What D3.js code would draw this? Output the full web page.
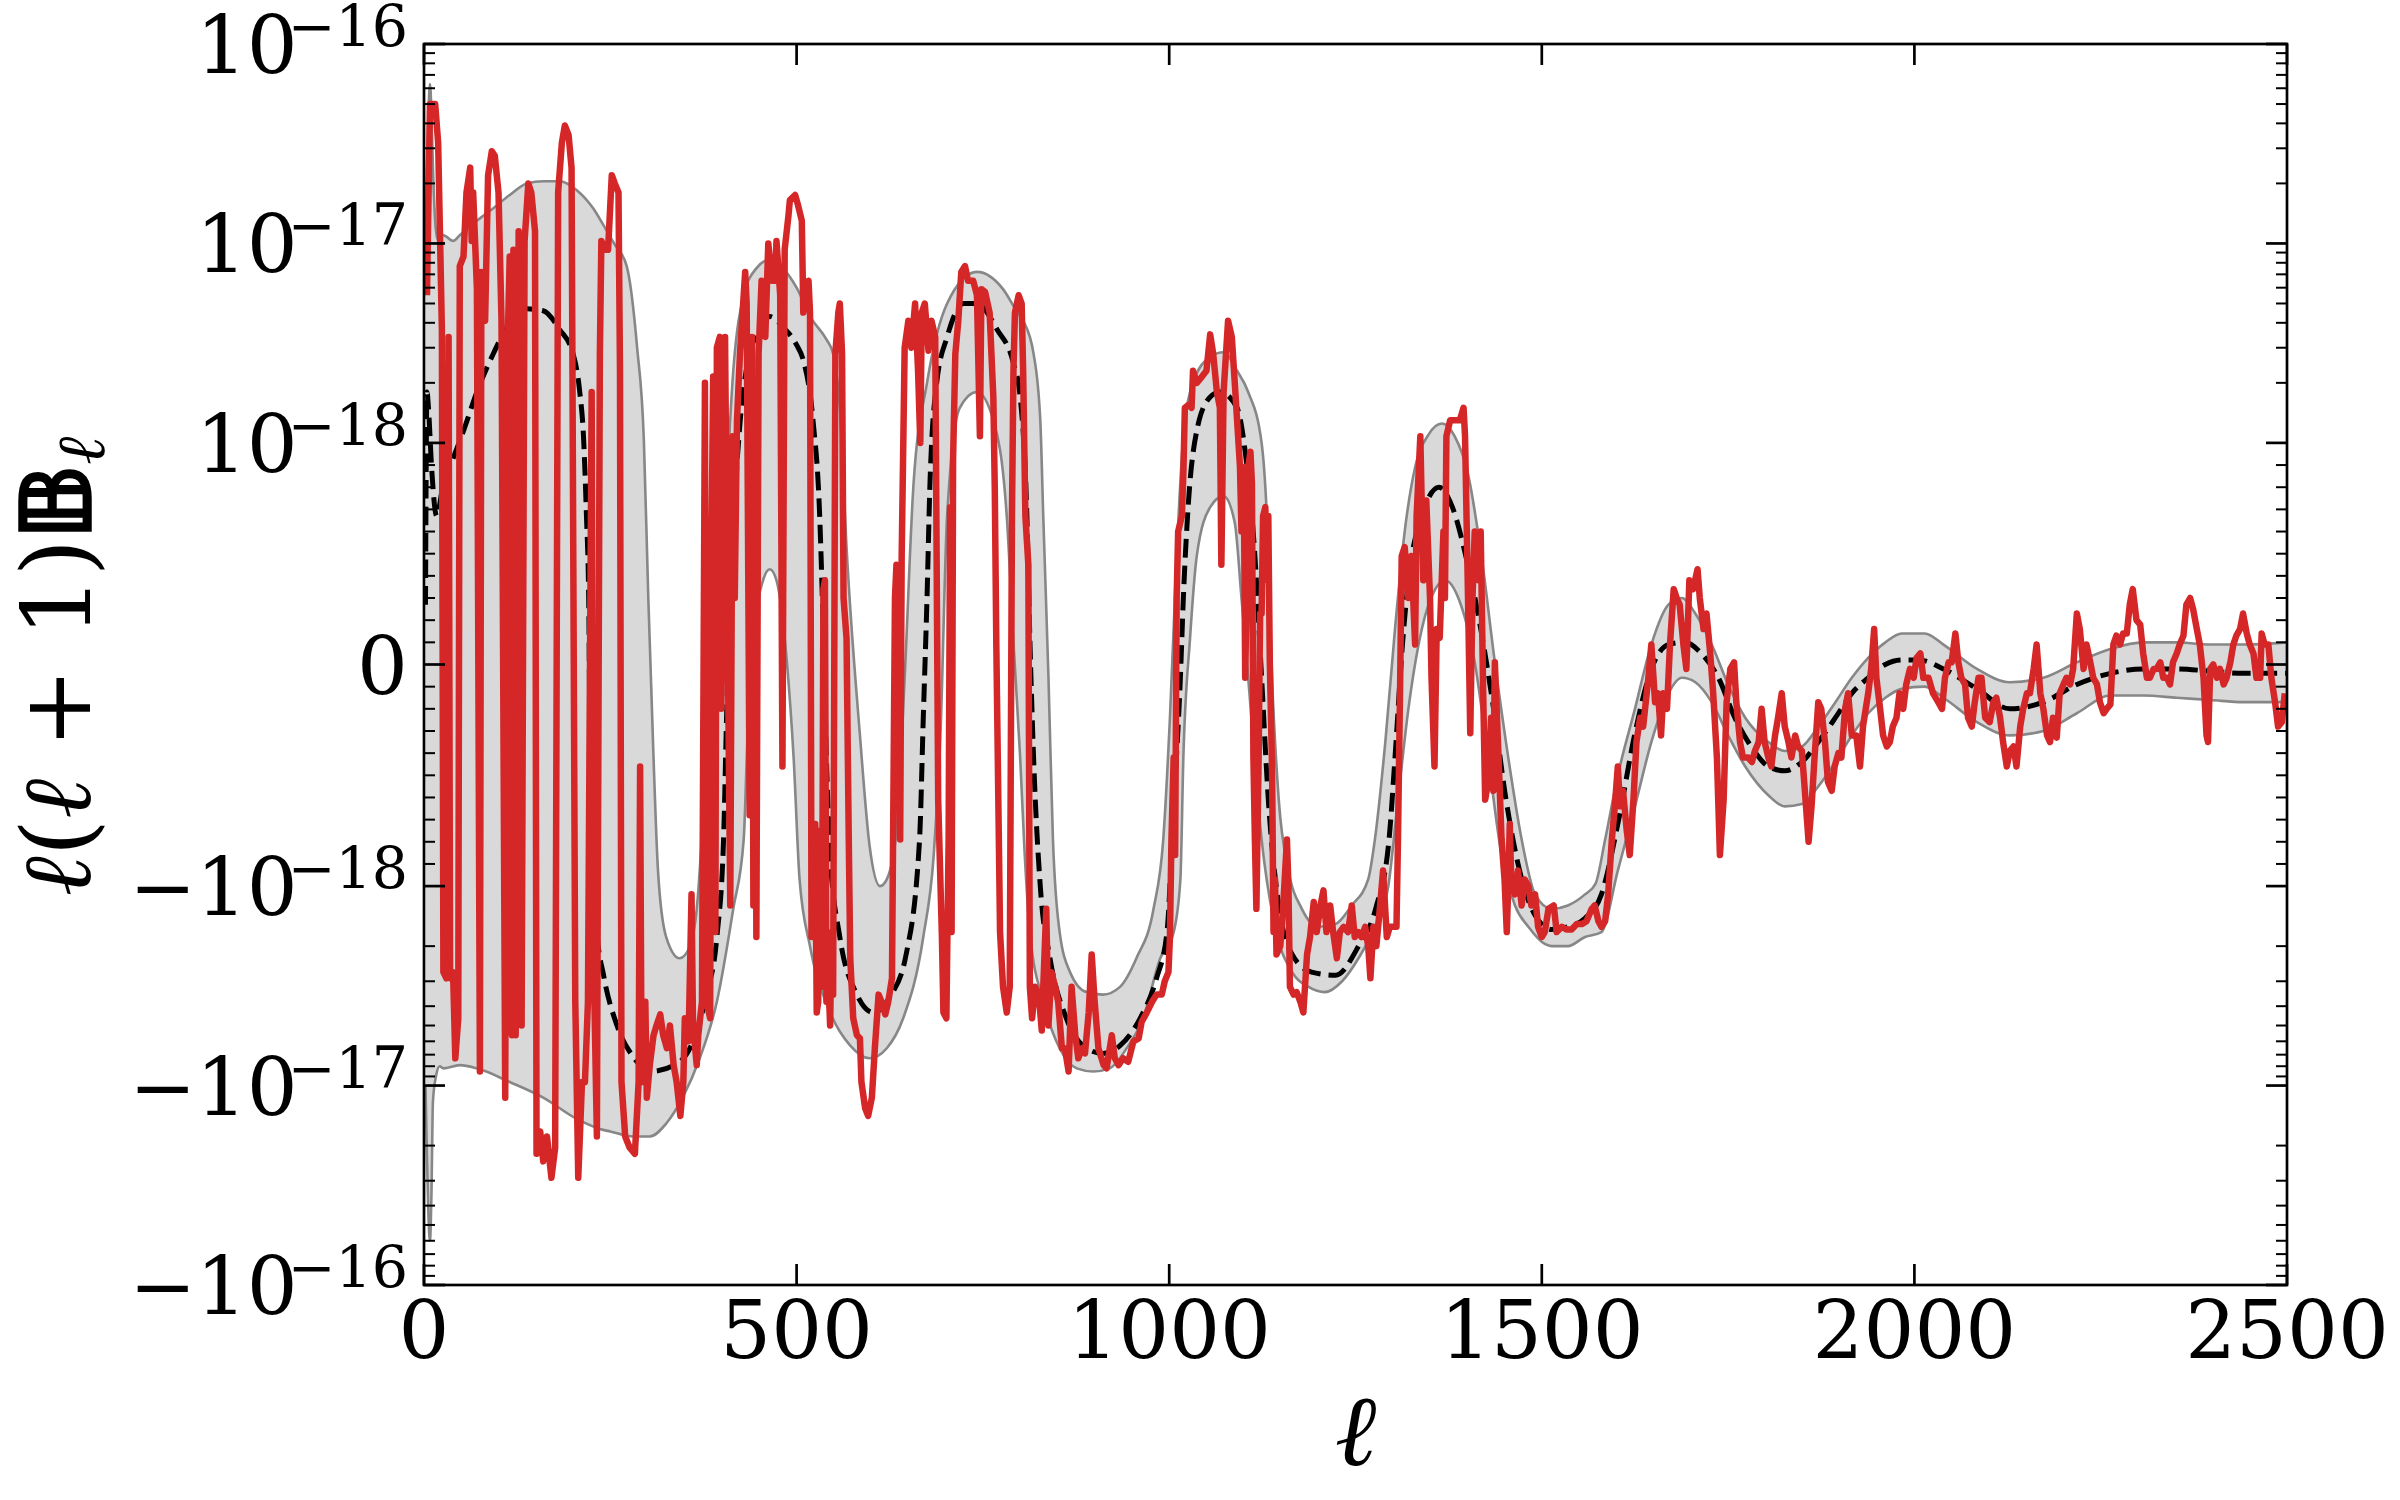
<!DOCTYPE html>
<html>
<head>
<meta charset="utf-8">
<script src="https://cdnjs.cloudflare.com/ajax/libs/d3/7.8.5/d3.min.js"></script>
<style>
  body { margin: 0; background: #fff; }
  svg { display: block; }
  text { font-family: "DejaVu Serif", serif; fill: #000; }
</style>
</head>
<body>
<svg id="chart" width="2400" height="1500"></svg>
<script>
// --- Data (all y values are in units of 1e-18) ---

// theory curve (black dashed)
const theoryEll = [2, 4, 6, 10, 17, 26, 39, 53, 71, 93, 115, 138, 160, 182, 200, 209, 214, 218, 221, 223, 232, 241, 259, 281, 303, 339, 361, 379, 393, 402, 406, 411, 424, 437, 451, 464, 482, 500, 509, 522, 531, 536, 540, 545, 558, 581, 603, 625, 647, 665, 670, 675, 679, 688, 702, 724, 742, 769, 791, 800, 809, 813, 818, 827, 840, 862, 889, 911, 934, 961, 983, 997, 1006, 1015, 1019, 1026, 1037, 1055, 1068, 1091, 1102, 1115, 1124, 1133, 1147, 1165, 1191, 1223, 1254, 1277, 1295, 1303, 1313, 1321, 1339, 1362, 1380, 1398, 1416, 1434, 1452, 1474, 1491, 1513, 1535, 1558, 1580, 1602, 1625, 1647, 1670, 1692, 1714, 1737, 1759, 1781, 1804, 1826, 1849, 1871, 1894, 1916, 1938, 1961, 1983, 2006, 2039, 2084, 2128, 2173, 2218, 2263, 2307, 2352, 2397, 2442, 2500];
const theoryVal = [0.27, 1.8, 1.5, 0.9, 0.67, 0.82, 0.93, 1.15, 1.8, 2.8, 4.0, 4.7, 4.6, 3.7, 2.8, 1.8, 1.08, 0.67, 0.3, -0.42, -1.7, -2.8, -5, -7.2, -8.5, -7.8, -6, -3.5, -1.8, -0.79, -0.24, 0.3, 1.25, 2.8, 3.7, 4.3, 3.8, 3.1, 2.6, 1.3, 0.67, 0.12, -0.42, -0.86, -1.8, -3.5, -4.3, -3.6, -2.2, -0.79, -0.24, 0.3, 0.82, 2.0, 3.4, 5.0, 5.0, 3.7, 2.5, 1.7, 0.67, 0.12, -0.42, -1.0, -2.3, -4.6, -6.5, -6.9, -6.3, -4.6, -2.9, -1.7, -0.64, -0.06, 0.3, 0.74, 1.15, 1.7, 1.8, 1.5, 0.96, 0.49, -0.06, -0.61, -1.25, -2.2, -2.7, -2.8, -2.0, -1.3, -0.79, -0.42, 0.09, 0.38, 0.67, 0.8, 0.71, 0.49, 0.2, -0.17, -0.61, -0.98, -1.4, -1.65, -1.6, -1.45, -1.1, -0.72, -0.31, -0.02, 0.09, 0.1, 0.05, -0.06, -0.24, -0.37, -0.46, -0.48, -0.44, -0.35, -0.24, -0.13, -0.06, 0, 0.02, 0.02, -0.02, -0.11, -0.2, -0.17, -0.09, -0.04, -0.02, -0.02, -0.03, -0.04, -0.04];

// upper edge of the grey band
const bandHiEll = [2, 4, 6, 8, 10, 12, 15, 18, 26, 39, 48, 71, 93, 115, 138, 160, 182, 205, 227, 240, 255, 272, 286, 295, 301, 308, 314, 325, 343, 357, 366, 378, 393, 406, 415, 429, 446, 464, 482, 500, 520, 540, 549, 558, 567, 585, 598, 612, 621, 634, 645, 657, 675, 702, 742, 777, 795, 804, 818, 827, 831, 838, 844, 853, 867, 889, 911, 934, 956, 979, 992, 1001, 1010, 1019, 1032, 1055, 1073, 1091, 1106, 1124, 1131, 1138, 1147, 1160, 1178, 1200, 1223, 1245, 1267, 1276, 1290, 1303, 1316, 1330, 1348, 1366, 1383, 1401, 1419, 1437, 1455, 1473, 1491, 1513, 1535, 1558, 1572, 1585, 1602, 1625, 1647, 1670, 1688, 1706, 1728, 1750, 1773, 1804, 1826, 1849, 1871, 1894, 1916, 1938, 1961, 1983, 2014, 2039, 2084, 2128, 2173, 2218, 2263, 2307, 2352, 2397, 2442, 2500];
const bandHiVal = [10, 24, 45, 63, 45, 24, 13, 10.5, 11, 10.3, 11, 13, 15, 17.5, 20, 20.5, 20.5, 18.5, 15, 12.5, 10, 7.7, 3, 1.04, 0.3, -0.42, -0.93, -1.8, -2.3, -2, -1.3, -0.5, 0.2, 0.82, 2.3, 5.5, 7.5, 8.3, 7.5, 6.0, 4.2, 3.3, 2.8, 1.5, 0.53, -0.32, -0.82, -1.0, -0.97, -0.75, -0.06, 0.82, 2.0, 5.0, 7.2, 5.9, 4.6, 4.1, 2.8, 1.3, 0.67, -0.06, -0.79, -1.7, -2.7, -3.4, -3.5, -3.2, -2.3, -1.3, -0.79, -0.24, 0.49, 1.08, 2.0, 2.7, 2.85, 2.3, 1.8, 1.0, 0.67, -0.06, -0.61, -0.93, -1.3, -1.6, -1.55, -1.25, -0.97, -0.79, -0.35, 0.16, 0.6, 0.89, 1.1, 1.25, 1.08, 0.86, 0.49, 0.01, -0.42, -0.79, -1.1, -1.3, -1.25, -1.1, -0.99, -0.79, -0.5, -0.2, 0.09, 0.27, 0.3, 0.23, 0.09, -0.09, -0.24, -0.35, -0.39, -0.37, -0.28, -0.17, -0.06, 0.03, 0.1, 0.14, 0.14, 0.09, -0.02, -0.08, -0.06, 0.01, 0.07, 0.1, 0.1, 0.09, 0.09, 0.1];

// lower edge of the grey band
const bandLoEll = [2, 4, 6, 8, 10, 12, 16, 21, 26, 48, 71, 115, 160, 205, 236, 250, 281, 303, 325, 347, 370, 393, 415, 429, 435, 442, 455, 464, 473, 487, 496, 504, 518, 545, 572, 598, 621, 643, 670, 684, 693, 702, 719, 742, 764, 782, 791, 800, 806, 813, 831, 853, 876, 898, 920, 943, 965, 988, 1006, 1015, 1019, 1028, 1037, 1055, 1073, 1088, 1097, 1106, 1124, 1142, 1165, 1187, 1209, 1232, 1254, 1276, 1294, 1307, 1321, 1339, 1357, 1370, 1388, 1410, 1428, 1446, 1464, 1482, 1504, 1513, 1535, 1558, 1580, 1602, 1625, 1647, 1670, 1688, 1706, 1728, 1750, 1773, 1804, 1826, 1849, 1871, 1894, 1916, 1938, 1961, 1983, 2014, 2039, 2084, 2128, 2173, 2218, 2263, 2307, 2352, 2397, 2442, 2500];
const bandLoVal = [-10, -23, -45, -60, -35, -12, -9, -8, -8.2, -7.9, -8.2, -9.6, -11.5, -14.7, -16.5, -17, -18, -18, -15.5, -11.5, -7.3, -3.8, -1.3, -0.79, -0.24, 0.12, 0.38, 0.43, 0.38, 0.01, -0.42, -0.97, -2.0, -4.3, -6.3, -7.3, -6.5, -4.6, -1.8, -0.86, -0.32, 0.67, 1.5, 1.8, 1.3, 0.67, 0.1, -0.42, -0.85, -1.7, -3.8, -6.5, -8.2, -8.5, -8.2, -6.5, -4.6, -2.3, -1.7, -0.97, -0.42, 0.12, 0.49, 0.71, 0.76, 0.64, 0.3, -0.06, -0.79, -1.6, -2.7, -3.2, -3.4, -3.0, -2.3, -1.6, -1.0, -0.61, -0.2, 0.16, 0.34, 0.38, 0.3, 0.01, -0.42, -0.86, -1.25, -1.6, -1.95, -2.0, -2.0, -1.8, -1.7, -0.93, -0.64, -0.35, -0.13, -0.06, -0.08, -0.17, -0.32, -0.46, -0.59, -0.64, -0.63, -0.55, -0.44, -0.32, -0.22, -0.15, -0.11, -0.1, -0.15, -0.26, -0.32, -0.3, -0.22, -0.14, -0.14, -0.15, -0.16, -0.17, -0.17];

// measured spectrum (red)
const dataEll = [
  4, 8, 15, 19, 24, 26, 30, 33, 35, 39, 42, 46, 48, 53, 57, 62, 64, 66, 71, 75, 77, 82, 86, 91, 95, 100, 104, 109, 112, 115, 118, 120, 123, 127, 131, 135, 140, 144, 149, 151, 156, 160, 165, 171, 176, 180, 185, 189, 194, 198, 203, 207, 212, 216, 220, 225, 227, 232, 236, 238, 243,
  247, 252, 256, 261, 263, 265, 270, 276, 283, 288, 290, 292, 297, 299, 303, 308, 312, 317, 321, 326, 330, 335, 339, 344, 348, 350, 355, 359, 361, 366, 368, 373, 377, 379, 384, 386, 388, 391, 393, 397, 399, 404, 406, 411, 414, 417, 420, 424, 429, 431, 433, 437, 440, 442, 444, 446, 449, 453, 458, 462, 467, 471, 473, 478, 481, 484, 489,
  491, 498, 502, 507, 509, 514, 516, 518, 520, 525, 527, 529, 531, 534, 536, 538, 540, 543, 545, 547, 549, 552, 556, 558, 561, 563, 567, 570, 572, 576, 581, 585, 587, 592, 596, 601, 605, 610, 614, 619, 623, 628, 632, 634, 639, 641, 645, 650, 654, 659, 663, 666, 668, 672, 677, 681, 686, 690, 695, 697, 701, 704, 706, 708, 710, 713, 717, 721, 726, 730, 737, 742, 746, 748, 753, 759, 764, 766, 768, 773, 777, 782,
  786, 789, 791, 793, 798, 802, 804, 807, 811, 813, 816, 820, 825, 829, 831, 835, 838, 842, 847, 851, 856, 860, 865, 869, 874, 878, 883, 887, 892, 896, 900, 905, 912, 916, 923, 927, 932, 938, 945, 952, 959, 963, 970, 977, 983, 990, 994, 999, 1001, 1003, 1006, 1008, 1010, 1012, 1017, 1019, 1021, 1026, 1030, 1032, 1037, 1044, 1050, 1055, 1059, 1064, 1068, 1070, 1073, 1079, 1084, 1088, 1093,
  1095, 1097, 1100, 1102, 1104, 1106, 1109, 1111, 1113, 1115, 1117, 1120, 1122, 1124, 1126, 1129, 1131, 1133, 1135, 1138, 1140, 1142, 1144, 1149, 1153, 1158, 1160, 1162, 1167, 1171, 1176, 1180, 1185, 1189, 1194, 1198, 1203, 1207, 1211, 1216, 1220, 1225, 1229, 1234, 1240, 1245, 1249, 1254, 1258, 1263, 1267, 1270, 1274, 1278, 1283, 1287, 1292, 1296, 1301, 1305, 1307, 1310, 1312, 1316, 1321, 1325, 1330, 1332, 1337, 1341, 1345, 1350, 1352, 1356, 1359, 1363, 1368, 1370, 1372, 1377, 1383, 1390, 1395, 1397, 1401, 1404, 1407, 1410, 1415, 1418, 1421, 1424, 1428, 1432, 1435, 1437, 1442, 1446, 1450, 1453, 1455, 1457, 1459, 1464, 1468, 1473, 1477, 1482, 1486,
  1491, 1495, 1500, 1504, 1509, 1516, 1520, 1527, 1533, 1540, 1547, 1554, 1560, 1567, 1571, 1576, 1580, 1585, 1589, 1594, 1598, 1602, 1605, 1609, 1614, 1618, 1623, 1627, 1632, 1636, 1643, 1647, 1652, 1656, 1660, 1663, 1668, 1672, 1677, 1681, 1685, 1690, 1694, 1698, 1703, 1709, 1712, 1717, 1721, 1726, 1730, 1735, 1739, 1744, 1748, 1753, 1758, 1761, 1766, 1770, 1777, 1782, 1786, 1791, 1795, 1799, 1804, 1808, 1813, 1817, 1822, 1826, 1831, 1835, 1840, 1844, 1849, 1853, 1858, 1862, 1866, 1871, 1875, 1880, 1884, 1889, 1893, 1898, 1902, 1907, 1911, 1916, 1922, 1927, 1931, 1938, 1942, 1946, 1949, 1954, 1958, 1963, 1967, 1971, 1976, 1980, 1985, 1989,
  1994, 1999, 2003, 2008, 2012, 2019, 2025, 2032, 2037, 2041, 2046, 2050, 2055, 2059, 2063, 2068, 2072, 2077, 2081, 2086, 2090, 2095, 2101, 2106, 2110, 2115, 2119, 2124, 2128, 2133, 2137, 2142, 2146, 2151, 2155, 2160, 2164, 2169, 2173, 2178, 2182, 2186, 2191, 2195, 2200, 2204, 2209, 2213, 2218, 2222, 2227, 2231, 2236, 2240, 2245, 2249, 2254, 2258, 2263, 2267, 2271, 2276, 2280, 2285, 2289, 2293, 2298, 2303, 2307, 2312, 2316, 2321, 2325, 2330, 2334, 2339, 2343, 2347, 2352, 2356, 2361, 2365, 2370, 2374, 2379, 2383, 2388, 2392, 2394, 2397, 2401, 2406, 2410, 2415, 2419, 2424, 2428, 2432, 2437, 2441, 2446, 2450, 2455, 2459, 2464, 2466, 2470, 2475, 2479, 2484, 2488, 2493, 2497
];
const dataVal = [
  5.5, 50, 50, 32, 3.7, -2.7, -2.9, 3.4, -2.9, -2.7, -7.3, -4.6, 7.7, 8.6, 18, 24, 10.3, 18, 5.9, -8.5, 7.2, 4.1, 22, 29, 27.5, 18, 4.1, -11.5, 2.8, 8.6, -5.6, 9.3, -5.6, 11.5, -5, 10.3, 20, 18, 11.5, -22, -17, -24, -18, -29, -20.5, 18, 32, 39, 35, 24, -3.8, -29, -9.6, -9.6, -3.8, 1.8, -1.7, -18, 2.8, 10.3, 9.3,
  9.3, 22, 20, 18, 2.3, -9.6, -18, -20.5, -22, -9.6, -0.46, -9.6, -3.8, -11.5, -7.9, -5.6, -5, -4.4, -5.6, -6.5, -5, -7.9, -9.6, -14.2, -9.6, -4.6, -6, -1.1, -5, -7.9, -5.6, -3.8, 2.0, -3.8, -4.6, 0.6, 2.15, -1.7, 3.0, 3.4, -0.2, 3.4, 0.67, -1.25, 1.08, 0.3, 1.3, 2.8, 5.5, 7.2, 5.0, -0.68, 3.4, -1.25, 1.08, -1.8, 2.8, 6.5, 3.4, 10, 6.5, 6.5, 10.3, 5.5, -0.46, 9.3, 13.7,
  16.5, 17.5, 15.5, 13, 4.5, 5.9, 6.5, 4.5, -1.8, -0.72, -4.3, -3.8, -0.75, -3.2, 0.34, 0.38, -3.8, -3.2, -5, -1.7, -3.5, 2.8, 4.5, 5.0, 2.8, 0.3, 0.12, -0.79, -2.3, -4.6, -5.6, -5.8, -9.6, -13, -14.2, -11.5, -6.5, -3.5, -3.8, -4.4, -3.8, -2.9, 0.3, 0.45, -0.79, 0.49, 3.0, 4.1, 3.0, 5.0, 2.3, 1.0, 4.5, 5.0, 2.9, 4.1, 3.4, -0.61, -1.8, -4.3, -4.6, -0.79, 0.71, -1.7, 0.93, 2.8, 4.1, 7.2, 7.7, 6.5, 6.5, 5.5, 1.08, 5.9, 5.7, 4.5, 1.7, 0.78, 0.09, -1.7, -3.2, -4.3,
  -3.2, 0.67, 2.3, 4.5, 5.5, 5.0, 2.3, 0.67, 0.45, -3.2, -4.6, -3.2, -3.5, -5.3, -3.2, -1.3, -5, -2.7, -3.2, -3.8, -6.5, -6.5, -8.5, -3.2, -5.6, -7.3, -6.5, -6.9, -4.3, -2.2, -3.8, -6.5, -7.9, -8.2, -5.6, -7.3, -7.9, -7.3, -7.6, -6, -5.8, -4.8, -4.3, -3.8, -3.5, -3.5, -3.0, -2.7, -1.8, -0.79, -0.42, -0.86, 0.3, 0.6, 0.67, 0.86, 1.5, 1.55, 1.5, 2.3, 2.0, 2.15, 2.3, 3.5, 2.8, 1.8, 1.5, 0.45, 1.8, 4.1, 3.4, 2.0, 1.0,
  0.89, 0.6, 0.89, -0.06, 0.34, 0.89, 0.96, 0.82, -0.42, -0.79, -1.3, -0.42, 0.23, 0.23, 0.67, 0.71, 0.38, 0.67, 0.01, -0.46, -1.7, -0.97, -2.2, -2.0, -1.25, -0.79, -1.0, -3.2, -3.5, -3.4, -3.8, -4.3, -2.2, -1.8, -1.2, -1.7, -1.25, -1.05, -1.7, -1.25, -1.7, -2.3, -1.7, -1.6, -1.7, -1.25, -1.8, -1.7, -1.8, -1.6, -2.0, -2.9, -1.6, -2.0, -1.25, -0.93, -1.8, -1.6, -1.6, -1.6, -0.79, -0.06, 0.49, 0.53, 0.3, 0.49, 0.09, 0.67, 1.08, 0.38, 0.74, 0.3, -0.06, -0.46, 0.16, 0.12, 0.6, 0.3, 1.08, 1.3, 1.3, 1.3, 1.5, 1.08, 0.3, -0.31, 0.3, 0.6, 0.38, 0.6, -0.06, -0.61, -0.53, -0.24, -0.57, 0.01, -0.42, -0.79, -0.97, -1.7, -1.0, -0.72, -0.97, -1.1, -0.93, -1.25, -0.97, -1.0, -1.25,
  -1.1, -1.6, -1.8, -1.7, -1.3, -1.25, -1.7, -1.6, -1.65, -1.65, -1.55, -1.55, -1.5, -1.3, -1.25, -1.5, -1.6, -1.5, -1.1, -0.79, -0.64, -0.46, -0.64, -0.57, -0.75, -0.86, -0.61, -0.35, -0.24, -0.28, -0.06, 0.09, -0.17, -0.13, -0.32, -0.13, -0.2, 0.09, 0.34, 0.3, 0.27, 0.09, -0.02, 0.38, 0.34, 0.43, 0.3, 0.16, 0.23, 0.05, -0.13, -0.42, -0.86, -0.61, -0.17, -0.02, 0.01, -0.17, -0.35, -0.42, -0.42, -0.44, -0.39, -0.35, -0.2, -0.35, -0.42, -0.46, -0.32, -0.24, -0.13, -0.28, -0.35, -0.42, -0.32, -0.37, -0.39, -0.57, -0.8, -0.64, -0.42, -0.17, -0.2, -0.35, -0.53, -0.57, -0.46, -0.4, -0.42, -0.2, -0.13, -0.32, -0.32, -0.46, -0.28, -0.13, -0.02, 0.16, -0.06, -0.2, -0.32, -0.37, -0.35, -0.28, -0.24, -0.13, -0.2, -0.09,
  -0.02, -0.06, 0.03, 0.05, -0.06, -0.06, -0.13, -0.17, -0.2, -0.06, 0.01, 0.01, 0.14, 0.01, -0.06, -0.09, -0.24, -0.28, -0.17, -0.06, -0.06, -0.24, -0.26, -0.17, -0.15, -0.24, -0.35, -0.46, -0.39, -0.37, -0.46, -0.28, -0.2, -0.13, -0.13, -0.02, 0.09, -0.13, -0.2, -0.32, -0.35, -0.24, -0.33, -0.13, -0.09, -0.06, -0.09, -0.02, 0.23, 0.16, -0.02, 0.09, 0.01, -0.06, -0.09, -0.17, -0.22, -0.2, -0.18, 0.09, 0.13, 0.09, 0.14, 0.14, 0.27, 0.34, 0.2, 0.18, 0.05, -0.06, -0.06, -0.02, -0.02, 0.01, -0.06, -0.06, -0.09, 0.01, 0.05, 0.09, 0.13, 0.27, 0.3, 0.25, 0.16, 0.09, -0.06, -0.32, -0.35, -0.02, 0, -0.06, -0.02, -0.09, -0.06, 0.01, 0.09, 0.13, 0.16, 0.23, 0.14, 0.09, 0.05, -0.06, -0.06, 0.14, 0.09, 0.09, -0.06, -0.17, -0.28, -0.26, -0.13
];

// axis ticks
const xTicks = [0, 500, 1000, 1500, 2000, 2500];
const yTickValues = [100, 10, 1, 0, -1, -10, -100];
const yTickExps = [-16, -17, -18, null, -18, -17, -16];

// --- Layout ---
const PLOT_LEFT = 424, PLOT_RIGHT = 2287, PLOT_TOP = 44, PLOT_BOTTOM = 1285;
const MAJOR_LEN = 21, MINOR_LEN = 11;

// --- symlog transform like matplotlib (linthresh = 1 unit, linscale = 1, base 10) ---
const LINTHRESH = 1;
const LINSCALE_ADJ = 1 / (1 - 1 / 10);
function symlog(v) {
    const a = Math.abs(v);
    if (a <= LINTHRESH) return v * LINSCALE_ADJ;
    return Math.sign(v) * LINTHRESH * (LINSCALE_ADJ + Math.log10(a / LINTHRESH));
}

const xScale = d3.scaleLinear().domain([0, 2500]).range([PLOT_LEFT, PLOT_RIGHT]);
const yLin = d3.scaleLinear().domain([symlog(-100), symlog(100)]).range([PLOT_BOTTOM, PLOT_TOP]);
const yScale = v => yLin(symlog(v));

const svg = d3.select('#chart');
const defs = svg.append('defs');

defs.append('clipPath').attr('id', 'plot-clip')
    .append('rect')
    .attr('x', PLOT_LEFT).attr('y', PLOT_TOP)
    .attr('width', PLOT_RIGHT - PLOT_LEFT).attr('height', PLOT_BOTTOM - PLOT_TOP);

const hiPts = d3.zip(bandHiEll, bandHiVal);
const loPts = d3.zip(bandLoEll, bandLoVal);
const theoryPts = d3.zip(theoryEll, theoryVal);
const dataPts = d3.zip(dataEll, dataVal);

// region above the lower edge, used to cut the fill under the upper edge
defs.append('clipPath').attr('id', 'above-lower')
    .append('path')
    .attr('d', d3.area()
        .x(d => xScale(d[0]))
        .y0(PLOT_TOP - 20)
        .y1(d => yScale(d[1]))
        .curve(d3.curveMonotoneX)(loPts));

const plot = svg.append('g').attr('clip-path', 'url(#plot-clip)');

// --- grey band ---
plot.append('path')
    .attr('d', d3.area()
        .x(d => xScale(d[0]))
        .y0(PLOT_BOTTOM + 20)
        .y1(d => yScale(d[1]))
        .curve(d3.curveMonotoneX)(hiPts))
    .attr('fill', '#d9d9d9')
    .attr('clip-path', 'url(#above-lower)');

const smoothLine = d3.line()
    .x(d => xScale(d[0]))
    .y(d => yScale(d[1]))
    .curve(d3.curveMonotoneX);

[hiPts, loPts].forEach(pts => {
    plot.append('path')
        .attr('d', smoothLine(pts))
        .attr('fill', 'none')
        .attr('stroke', '#878787')
        .attr('stroke-width', 2.6);
});

// --- theory (dashed) ---
plot.append('path')
    .attr('d', smoothLine(theoryPts))
    .attr('fill', 'none')
    .attr('stroke', '#000')
    .attr('stroke-width', 5)
    .attr('stroke-dasharray', '18.5,8');

// --- data (red) ---
plot.append('path')
    .attr('d', d3.line().x(d => xScale(d[0])).y(d => yScale(d[1]))(dataPts))
    .attr('fill', 'none')
    .attr('stroke', '#d62728')
    .attr('stroke-width', 6.5)
    .attr('stroke-linejoin', 'round');

// --- ticks ---
const ticks = svg.append('g').attr('stroke', '#000');

const yMinor = [];
[1, 10].forEach(dec => {
    for (let k = 2; k <= 9; k++) { yMinor.push(k * dec); yMinor.push(-k * dec); }
});
for (let k = 1; k <= 9; k++) { yMinor.push(k * 0.1); yMinor.push(-k * 0.1); }

function yTick(v, len, w) {
    const y = yScale(v);
    ticks.append('line').attr('x1', PLOT_LEFT).attr('x2', PLOT_LEFT + len)
        .attr('y1', y).attr('y2', y).attr('stroke-width', w);
    ticks.append('line').attr('x1', PLOT_RIGHT).attr('x2', PLOT_RIGHT - len)
        .attr('y1', y).attr('y2', y).attr('stroke-width', w);
}
yMinor.forEach(v => yTick(v, MINOR_LEN, 2));
yTickValues.forEach(v => yTick(v, MAJOR_LEN, 2.7));

xTicks.forEach(v => {
    const x = xScale(v);
    ticks.append('line').attr('x1', x).attr('x2', x)
        .attr('y1', PLOT_BOTTOM).attr('y2', PLOT_BOTTOM - MAJOR_LEN).attr('stroke-width', 2.7);
    ticks.append('line').attr('x1', x).attr('x2', x)
        .attr('y1', PLOT_TOP).attr('y2', PLOT_TOP + MAJOR_LEN).attr('stroke-width', 2.7);
});

// --- frame ---
svg.append('rect')
    .attr('x', PLOT_LEFT).attr('y', PLOT_TOP)
    .attr('width', PLOT_RIGHT - PLOT_LEFT).attr('height', PLOT_BOTTOM - PLOT_TOP)
    .attr('fill', 'none').attr('stroke', '#000').attr('stroke-width', 2.7);

// --- tick labels ---
yTickValues.forEach((v, i) => {
    const t = svg.append('text')
        .attr('x', 408)
        .attr('y', yScale(v) + 29)
        .attr('text-anchor', 'end')
        .attr('font-size', 80);
    if (yTickExps[i] === null) { t.text('0'); return; }
    t.append('tspan').text((v < 0 ? '\u2212' : '') + '10');
    t.append('tspan').attr('dx', -10).attr('dy', -27).attr('font-size', 57)
        .text('\u2212' + Math.abs(yTickExps[i]));
});

xTicks.forEach(v => {
    svg.append('text')
        .attr('x', xScale(v)).attr('y', 1358)
        .attr('text-anchor', 'middle')
        .attr('font-size', 80)
        .text(v);
});

// --- axis labels ---
svg.append('text')
    .attr('x', (PLOT_LEFT + PLOT_RIGHT) / 2).attr('y', 1465)
    .attr('text-anchor', 'middle')
    .attr('font-size', 100)
    .attr('font-style', 'italic')
    .text('\u2113');

const yLabel = svg.append('text')
    .attr('transform', `translate(90,${(PLOT_TOP + PLOT_BOTTOM) / 2 + 2}) rotate(-90)`)
    .attr('text-anchor', 'middle')
    .attr('font-size', 96);
yLabel.append('tspan').attr('font-style', 'italic').text('\u2113');
yLabel.append('tspan').text('(');
yLabel.append('tspan').attr('font-style', 'italic').text('\u2113');
yLabel.append('tspan').text(' + 1)');
// double-struck B, stroked so it reads as heavy as the reference
yLabel.append('tspan')
    .attr('font-family', 'DejaVu Sans')
    .attr('font-weight', 'bold')
    .attr('stroke', '#000')
    .attr('stroke-width', 3.5)
    .text('\u{1D539}');
yLabel.append('tspan').attr('font-size', 67).attr('dy', 14).attr('font-style', 'italic').text('\u2113');
</script>
</body>
</html>
